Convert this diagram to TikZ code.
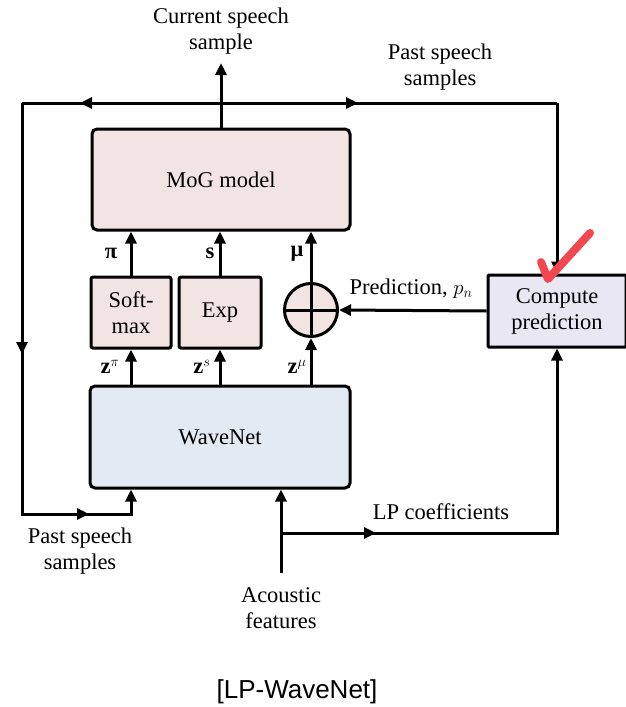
\documentclass[tikz,border=0pt]{standalone}
\usepackage{amsmath}
\usepackage{fontspec}
\setmainfont{Liberation Serif}
\newfontfamily\capfont{Liberation Sans}
\usetikzlibrary{arrows.meta}
\definecolor{mogpink}{HTML}{F3E4E4}
\definecolor{wnblue}{HTML}{E4EAF2}
\definecolor{cplav}{HTML}{E8E7F2}
\definecolor{chkred}{HTML}{F2474F}
\begin{document}
\begin{tikzpicture}[x=1pt,y=-1pt,
  line width=3pt,
  txt/.style={font=\fontsize{22.5}{26}\selectfont, align=center, inner sep=0pt},
  box/.style={draw, line width=3pt, rounded corners=5pt, inner sep=0pt,
    font=\fontsize{22.5}{26}\selectfont, align=center},
  arr/.style={-{Triangle[length=12pt,width=11pt]}},
]
\useasboundingbox (0,0) rectangle (625,707);

% boxes
\node[box, fill=mogpink, minimum width=258pt, minimum height=101pt] (mog) at (221,179.5) {\raisebox{-2pt}{MoG model}};
\node[box, fill=mogpink, rounded corners=2pt, minimum width=80pt, minimum height=71pt] (soft) at (131,312.5) {Soft-\\max};
\node[box, fill=mogpink, rounded corners=2pt, minimum width=82pt, minimum height=71pt] (expn) at (220,312.5) {Exp};
\node[draw, circle, fill=mogpink, minimum size=53pt, inner sep=0pt] (sum) at (311,310) {};
\draw (sum.north) -- (sum.south);
\draw (sum.west) -- (sum.east);
\node[box, fill=cplav, rounded corners=1pt, minimum width=138pt, minimum height=72pt] (comp) at (557,311) {\raisebox{-2pt}{\begin{tabular}{@{}c@{}}Compute\\prediction\end{tabular}}};
\node[box, fill=wnblue, minimum width=260pt, minimum height=102pt] (wave) at (220,437) {WaveNet};

% coordinates
\coordinate (cs) at (221,63);
\coordinate (tl) at (22,103);
\coordinate (tr) at (557,103);
\coordinate (bl) at (22,514);
\coordinate (br) at (131,514);
\coordinate (af) at (281,573);
\coordinate (bj) at (281,533);
\coordinate (lr) at (557,533);
\coordinate (mt1) at (80,103);
\coordinate (mt2) at (358,103);
\coordinate (mt3) at (22,354);
\coordinate (mt4) at (89,514);
\coordinate (mt5) at (376,533);

% connectors
\draw[arr] (mog.north) -- (cs);
\draw (tl) -- (tr);
\draw[arr] (tr) -- (comp.north);
\draw[arr] (tl) -- (bl) -- (br) -- (br |- wave.south);
\draw[arr] (soft.north) -- (soft.north |- mog.south);
\draw[arr] (expn.north) -- (expn.north |- mog.south);
\draw[arr] (sum.north) -- (sum.north |- mog.south);
\draw[arr] (soft.south |- wave.north) -- (soft.south);
\draw[arr] (expn.south |- wave.north) -- (expn.south);
\draw[arr] (sum.south |- wave.north) -- (sum.south);
\draw[arr] (comp.west) -- (sum.east);
\draw[arr] (af) -- (af |- wave.south);
\draw[arr] (bj) -- (lr) -- (comp.south);

% mid-line tips
\draw[arr] ([xshift=12pt]mt1) -- (mt1);
\draw[arr] ([xshift=-12pt]mt2) -- (mt2);
\draw[arr] ([yshift=12pt]mt3) -- (mt3);
\draw[arr] ([xshift=-12pt]mt4) -- (mt4);
\draw[arr] ([xshift=-12pt]mt5) -- (mt5);

% labels
\node[txt] (lcs) at (221,31) {Current speech\\sample};
\node[txt] (lps1) at (440,67) {Past speech\\samples};
\node[txt] (lps2) at (80,551) {Past speech\\samples};
\node[txt] (laf) at (281,608) {Acoustic\\features};
\node[txt] (llp) at (441,512) {LP coefficients};
\node[txt] (lpred) at (411,289) {Prediction, $p_n$};
\node[txt] (lpi) at (111,253) {\textbf{π}};
\node[txt] (ls) at (210,253) {\textbf{s}};
\node[txt] (lmu) at (297,254) {\textbf{μ}};
\node[txt] (lzpi) at (110,367) {$\mathbf{z}^{\pi}$};
\node[txt] (lzs) at (202,367) {$\mathbf{z}^{s}$};
\node[txt] (lzmu) at (297,367) {$\mathbf{z}^{\mu}$};
\node[font=\capfont\fontsize{26}{30}\selectfont, inner sep=0pt] (cap) at (297,692) {[LP-WaveNet]};

% red check mark
\draw[chkred, line width=8pt, line cap=round, line join=round] (541,262) -- (548,279) -- (590,233);
\end{tikzpicture}
\end{document}
